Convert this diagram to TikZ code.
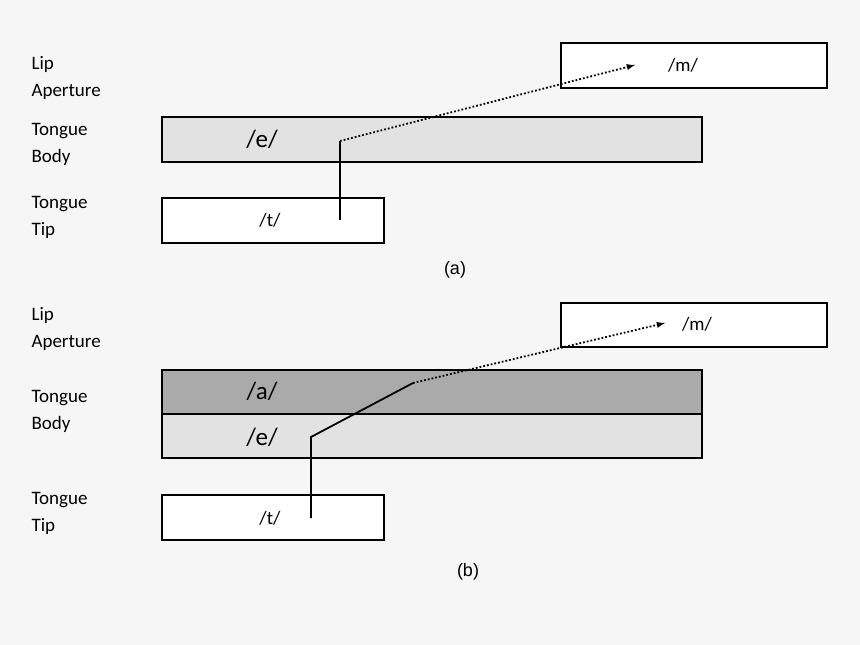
\documentclass[tikz,border=0pt]{standalone}
\usepackage{fontspec}
\setmainfont{Carlito}
\newfontfamily\arialf{Liberation Sans}
\begin{document}
\begin{tikzpicture}[x=1pt,y=-1pt,
  box/.style={draw=black,line width=1.4pt},
  lab/.style={anchor=west,font=\fontsize{19}{27}\selectfont,align=left},
  ph/.style={font=\fontsize{19}{22}\selectfont},
  big/.style={font=\fontsize{25}{28}\selectfont},
  captext/.style={font=\arialf\fontsize{18}{20}\selectfont},
  solidl/.style={line width=1.8pt},
  dotl/.style={line width=1.8pt,dotted,-latex}]
\useasboundingbox[fill={rgb,255:red,246;green,246;blue,246}] (0,0) rectangle (860,645);
% (a)
\draw[box,fill=white] (561,43) rectangle (827,88);
\draw[box,fill={rgb,255:red,226;green,226;blue,226}] (162,117) rectangle (702,162);
\draw[box,fill=white] (162,198) rectangle (384,243);
\node[ph] (ma) at (683,65) {/m/};
\node[big] (ea) at (262,139) {/e/};
\node[ph] (ta) at (270,220) {/t/};
\node[lab] at (28,78) {Lip\\Aperture};
\node[lab] at (28,144) {Tongue\\Body};
\node[lab] at (28,217) {Tongue\\Tip};
\node[captext] at (455,270) {(a)};
\coordinate (a0) at (340,220);
\coordinate (a1) at (340,141);
\coordinate (a2) at (635,65);
\draw[solidl] (a0) -- (a1);
\draw[dotl] (a1) -- (a2);
% (b)
\draw[box,fill=white] (561,303) rectangle (827,347);
\draw[box,fill={rgb,255:red,170;green,170;blue,170}] (162,370) rectangle (702,414);
\draw[box,fill={rgb,255:red,226;green,226;blue,226}] (162,414) rectangle (702,458);
\draw[box,fill=white] (162,495) rectangle (384,540);
\node[ph] (mb) at (697,324) {/m/};
\node[big] (ab) at (262,391) {/a/};
\node[big] (eb) at (262,437) {/e/};
\node[ph] (tb) at (270,518) {/t/};
\node[lab] at (28,329) {Lip\\Aperture};
\node[lab] at (28,411) {Tongue\\Body};
\node[lab] at (28,513) {Tongue\\Tip};
\node[captext] at (468,572) {(b)};
\coordinate (b0) at (311,518);
\coordinate (b1) at (311,437);
\coordinate (b2) at (413,383);
\coordinate (b3) at (665,323);
\draw[solidl] (b0) -- (b1) -- (b2);
\draw[dotl] (b2) -- (b3);
\end{tikzpicture}
\end{document}
